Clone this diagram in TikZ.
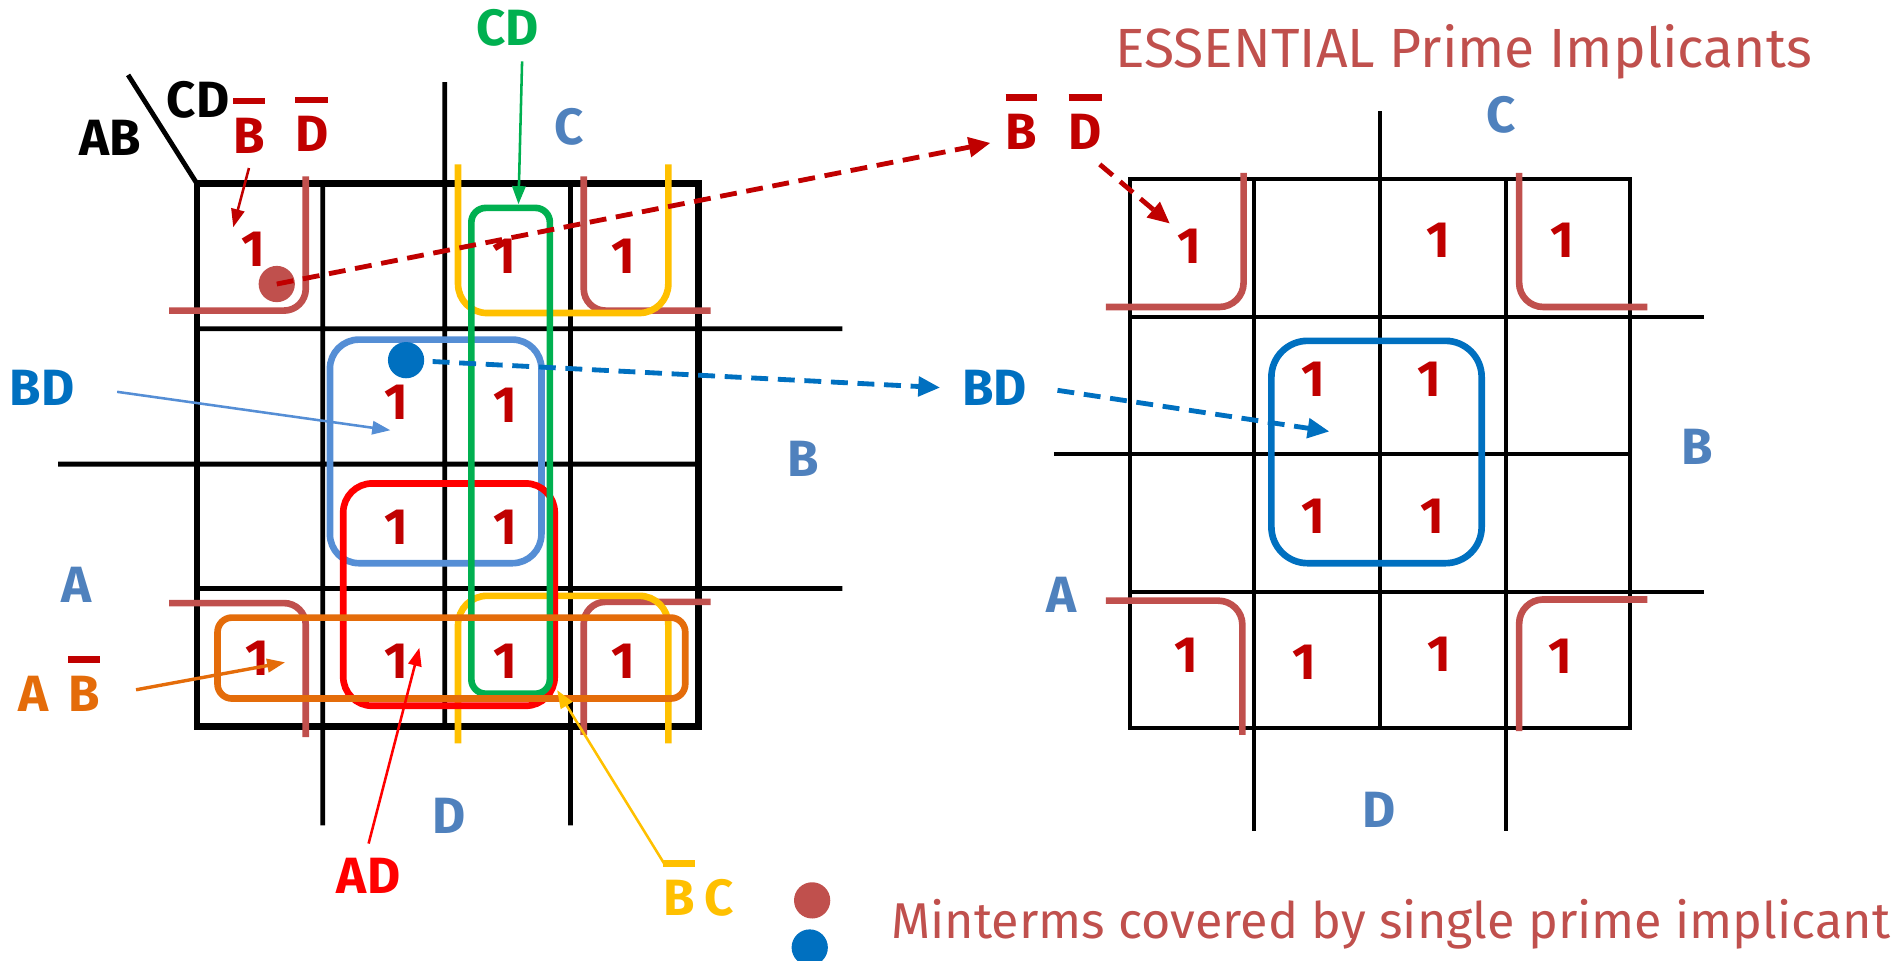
\documentclass[tikz,border=0pt]{standalone}
\usepackage{fontspec}
\setmainfont{Fira Sans}
\usetikzlibrary{positioning}
\usetikzlibrary{arrows.meta}
\definecolor{onered}{HTML}{C00000}
\definecolor{brick}{HTML}{C0504D}
\definecolor{varblue}{HTML}{4F81BD}
\definecolor{bdblue}{HTML}{0070C0}
\definecolor{skyblue}{HTML}{558ED5}
\definecolor{grpgreen}{HTML}{00B050}
\definecolor{grpred}{HTML}{FF0000}
\definecolor{grporange}{HTML}{E46C0A}
\definecolor{grpyellow}{HTML}{FFC000}
\newsavebox\barbox
\newcommand\nbar[2][.]{\sbox\barbox{#2}\rlap{\raisebox{\dimexpr\ht\barbox+1.1mm\relax}[0pt][0pt]{\color{#1}\rule{\wd\barbox}{0.55mm}}}\usebox\barbox}
\tikzset{kframe/.style={line width=0.55mm},
  kline/.style={line width=0.4mm},
  rline/.style={line width=0.33mm},
  grp/.style={line width=0.55mm},
  one/.style={text=onered, font=\bfseries\fontsize{12}{14}\selectfont, inner sep=0pt},
  lbl/.style={font=\bfseries\fontsize{12}{14}\selectfont},
  var/.style={lbl, text=varblue},
  ptr/.style={line width=0.6pt, -{Triangle[length=1.5mm,width=1.1mm]}},
  dptr/.style={line width=0.4mm, dash pattern=on 1.4mm off 0.8mm, -{Triangle[length=1.8mm,width=1.6mm]}},
  dot/.style={circle, minimum size=3mm, inner sep=0pt},}
\begin{document}
\begin{tikzpicture}[x=0.1mm, y=-0.1mm]
   \useasboundingbox (0,0) rectangle (1568,795);

   \draw[kline] (267,152) -- (267,683) (368,68) -- (368,601) (472,152) -- (472,683)
      (163,272) -- (697,272) (48,384) -- (578,384) (163,487) -- (697,487) (106,62) -- (163,152);
   \draw[kframe] (163,152) rectangle (578,601);

   \draw[grp, brick, rounded corners=1.8mm] (140,257) -- (253,257) -- (253,146);
   \draw[grp, brick, rounded corners=1.8mm] (483,146) -- (483,257) -- (588,257);
   \draw[grp, brick, rounded corners=1.8mm] (140,499) -- (253,499) -- (253,610);
   \draw[grp, brick, rounded corners=1.8mm] (588,498) -- (483,498) -- (483,608);
   \draw[grp, grpyellow, rounded corners=2.4mm] (379,136) -- (379,259) -- (553,259) -- (553,136);
   \draw[grp, grpyellow, rounded corners=2.4mm] (379,615) -- (379,493) -- (553,493) -- (553,615);
   \draw[grp, skyblue, rounded corners=2.4mm] (273,281) rectangle (448,466);
   \draw[grp, grpred, rounded corners=2.4mm] (284,400) rectangle (459,584);
   \draw[grp, grpgreen, rounded corners=1.2mm] (390,172) rectangle (455,574);
   \draw[grp, grporange, rounded corners=1.2mm] (180,511) rectangle (567,578);

   \foreach \x/\y [count=\i] in {210/206, 417/212, 516/212, 328/333, 418/335, 328/436,
      418/436, 213/545, 328/547, 418/547, 516/547}
      \node[one] (m\i) at (\x,\y) {1};

   \node[lbl] (ab) at (91,114) {AB};
   \node[lbl] (cd) at (164,83) {CD};
   \node[lbl, text=onered] (nbL) at (206,112) {\nbar{B}};
   \node[lbl, text=onered] (ndL) at (258,111) {\nbar{D}};
   \node[lbl, text=grpgreen] (cdT) at (420,23) {CD};
   \node[var] (cL) at (471,105) {C};
   \node[var] (bL) at (665,380) {B};
   \node[var] (aL) at (63,484) {A};
   \node[var] (dL) at (372,675) {D};
   \node[lbl, text=bdblue] (bdL) at (35,321) {BD};
   \node[lbl, text=grporange] (abL) at (49,574) {A\hspace{1.6mm}\nbar[onered]{B}};
   \node[lbl, text=grpred] (adL) at (305,725) {AD};
   \node[lbl, text=grpyellow] (bcL) at (578,743) {\nbar{B}\hspace{0.8mm}C};

   \coordinate (tBD) at (193,188);
   \coordinate (tCD) at (429,169);
   \coordinate (tBDl) at (323,356);
   \coordinate (tAB) at (236,548);
   \coordinate (tAD) at (347,536);
   \coordinate (tBC) at (461,571);

   \path[ptr]
    (nbL.south) edge[onered] (tBD)
    ([xshift=1.2mm]cdT.south) edge[grpgreen] (tCD)
    (bdL.east) edge[skyblue, shorten <=2.3mm] (tBDl)
    (abL.east) edge[grporange, line width=0.8pt, shorten <=1.8mm] (tAB)
    (adL.north) edge[grpred] (tAD)
    ([xshift=-2.8mm]bcL.north) edge[grpyellow] (tBC);

   \draw[rline] (1038,148) -- (1038,688) (1142,92) -- (1142,602) (1246,148) -- (1246,688)
      (935,262) -- (1410,262) (872,376) -- (1349,376) (935,490) -- (1410,490);
   \draw[rline] (935,148) rectangle (1349,602);

   \draw[grp, brick, rounded corners=2mm] (915,254) -- (1029,254) -- (1029,143);
   \draw[grp, brick, rounded corners=2mm] (1257,143) -- (1257,254) -- (1363,254);
   \draw[grp, brick, rounded corners=2mm] (915,497) -- (1028,497) -- (1028,608);
   \draw[grp, brick, rounded corners=2mm] (1363,496) -- (1257,496) -- (1257,605);
   \draw[grp, bdblue, rounded corners=3mm] (1052,282) rectangle (1226,466);

   \foreach \x/\y [count=\i] in {984/204, 1190/199, 1293/199, 1087/314, 1183/314, 1087/427,
      1185/427, 982/542, 1079/548, 1191/541, 1291/543}
      \node[one] (r\i) at (\x,\y) {1};

   \node[text=brick, font=\fontsize{13}{15}\selectfont] (title) at (1211,43) {ESSENTIAL Prime Implicants};
   \node[var] (cR) at (1242,95) {C};
   \node[var] (bR) at (1404,370) {B};
   \node[var] (aR) at (878,492) {A};
   \node[var] (dR) at (1141,670) {D};
   \node[lbl, text=onered] (nbR) at (845,109) {\nbar{B}};
   \node[lbl, text=onered] (ndR) at (898,109) {\nbar{D}};
   \node[lbl, text=bdblue] (bdR) at (823,321) {BD};

   \coordinate (tBDr) at (968,185);
   \coordinate (tBDb) at (1100,357);

   \node[dot, fill=brick] (dotR) at (229,235) {};
   \node[dot, fill=bdblue] (dotB) at (336,298) {};

   \path[dptr]
    (dotR.center) edge[onered] (nbR.200)
    (dotB.center) edge[bdblue, shorten >=0.6mm] (bdR.west)
    ([xshift=1.2mm]ndR.south) edge[onered] (tBDr)
    (bdR.east) edge[bdblue, shorten <=1.3mm] (tBDb);

   \node[dot, fill=brick] (keyR) at (672,745) {};
   \node[dot, fill=bdblue] (keyB) at (670,784) {};
   \node[text=brick, font=\fontsize{11.85}{14}\selectfont, anchor=west, inner sep=1mm] (key) at (727,765)
      {Minterms covered by single prime implicant};
\end{tikzpicture}
\end{document}
